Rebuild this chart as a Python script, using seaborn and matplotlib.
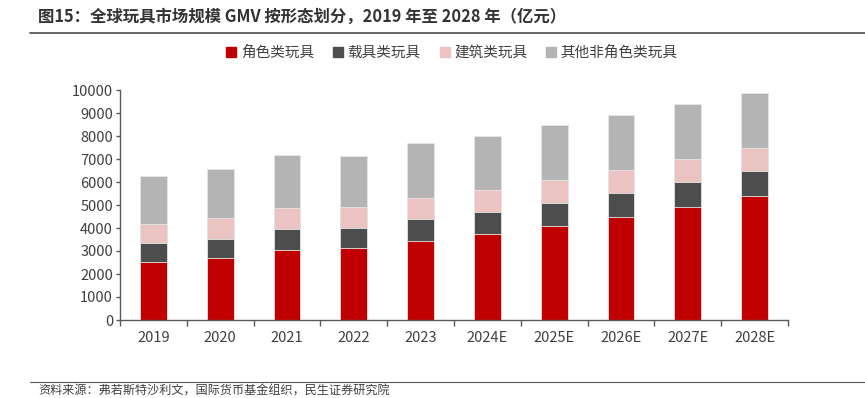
import numpy as np
import pandas as pd
import seaborn as sns
import matplotlib.pyplot as plt
from matplotlib.lines import Line2D

# 数据（亿元）
years = ["2019", "2020", "2021", "2022", "2023", "2024E", "2025E", "2026E", "2027E", "2028E"]
juese = [2540, 2680, 3030, 3110, 3420, 3720, 4100, 4500, 4910, 5370]
zaiju = [810, 860, 910, 910, 970, 990, 1000, 1030, 1090, 1120]
jianzhu = [830, 900, 930, 900, 910, 940, 970, 990, 980, 1000]
qita = [2100, 2130, 2300, 2220, 2390, 2370, 2410, 2400, 2410, 2390]

series_names = ["角色类玩具", "载具类玩具", "建筑类玩具", "其他非角色类玩具"]
colors = ["#C00000", "#4D4D4D", "#EBC3C3", "#B4B4B4"]

sns.set_theme(style="white")
plt.rcParams["font.family"] = ["Noto Sans CJK SC", "DejaVu Sans"]
text_col = "#404040"

df = pd.DataFrame({"year": years, "a": juese, "b": zaiju, "c": jianzhu, "d": qita})
df["s1"] = df["a"]
df["s2"] = df["s1"] + df["b"]
df["s3"] = df["s2"] + df["c"]
df["s4"] = df["s3"] + df["d"]

fig = plt.figure(figsize=(8.65, 3.98), dpi=100)
ax = fig.add_axes([120 / 865, 1 - 320 / 398, 668 / 865, 230 / 398])

# 累计值从高到低叠画，形成堆积柱
for col, name, c in zip(["s4", "s3", "s2", "s1"], series_names[::-1], colors[::-1]):
    sns.barplot(data=df, x="year", y=col, color=c, width=0.4, ax=ax,
                edgecolor="#e6e6e6", linewidth=0.6, saturation=1, label=name)

ax.set_ylim(0, 10000)
ax.set_xlim(-0.5, len(years) - 0.5)
ax.set_yticks(np.arange(0, 10001, 1000))
ax.set_xlabel("")
ax.set_ylabel("")

for s in ["top", "right"]:
    ax.spines[s].set_visible(False)
for s in ["left", "bottom"]:
    ax.spines[s].set_color("#595959")
    ax.spines[s].set_linewidth(1.0)

ax.tick_params(axis="y", length=3, width=1, color="#595959", labelsize=10.5,
               labelcolor=text_col, pad=2, left=True)
ax.tick_params(axis="x", which="major", length=0, labelsize=10.5,
               labelcolor=text_col, pad=8)
ax.set_xticks(np.arange(-0.5, len(years), 1), minor=True)
ax.tick_params(axis="x", which="minor", length=4, width=1, color="#595959", bottom=True)

if ax.legend_:
    ax.legend_.remove()
handles = [plt.Rectangle((0, 0), 1, 1, color=c) for c in colors]
fig.legend(handles, series_names, loc="center", bbox_to_anchor=(452 / 865, 1 - 53 / 398),
           ncol=4, frameon=False, fontsize=10.5, handlelength=0.7, handleheight=0.7,
           handletextpad=0.3, columnspacing=1.3, labelcolor=text_col)

# 标题与来源
fig.text(38 / 865, 1 - 17 / 398, "图15：全球玩具市场规模 GMV 按形态划分，2019 年至 2028 年（亿元）",
         fontsize=11.8, fontweight="bold", color="#333333", va="center", ha="left")
fig.add_artist(Line2D([30 / 865, 1], [1 - 33 / 398] * 2, color="#595959", lw=1.3))
fig.add_artist(Line2D([30 / 865, 1], [1 - 382 / 398] * 2, color="#595959", lw=0.8))
fig.text(38 / 865, 1 - 391 / 398, "资料来源：弗若斯特沙利文，国际货币基金组织，民生证券研究院",
         fontsize=8.7, color="#404040", va="center", ha="left")

fig.savefig("out.png", dpi=100)
